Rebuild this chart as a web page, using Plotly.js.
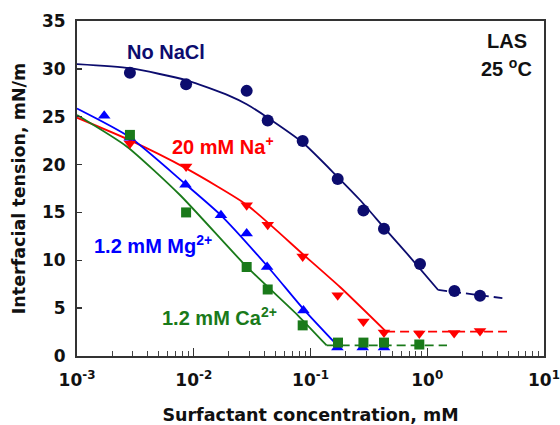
<!DOCTYPE html>
<html>
<head>
<meta charset="utf-8">
<script src="https://cdn.plot.ly/plotly-3.0.1.min.js"></script>
<style>html,body{margin:0;padding:0;background:#fff;}#chart{width:560px;height:425px;}</style>
</head>
<body>
<div id="chart"></div>
<script>
// ---- data ----
// No NaCl
const noNaClX = [0.00284, 0.0086, 0.0284, 0.043, 0.0857, 0.171, 0.284, 0.426, 0.867, 1.71, 2.83];
const noNaClY = [29.6, 28.4, 27.7, 24.6, 22.46, 18.5, 15.2, 13.3, 9.6, 6.8, 6.3];
const noNaClFitX = [0.001, 0.00284, 0.0087, 0.02, 0.0284, 0.043, 0.0857, 0.171, 0.2655, 0.426, 0.712, 1.24];
const noNaClFitY = [30.5, 30.07, 28.8, 27.2, 26.3, 24.9, 22.3, 18.7, 16.3, 13.42, 10.34, 6.9];
const noNaClDashX = [1.24, 4.4];
const noNaClDashY = [6.9, 6.05];

// 20 mM Na+
const naX = [0.00284, 0.0086, 0.0284, 0.043, 0.0857, 0.171, 0.284, 0.426, 0.855, 1.70, 2.83];
const naY = [22.2, 19.8, 15.75, 13.7, 10.4, 6.35, 3.6, 2.45, 2.35, 2.4, 2.6];
const naFitX = [0.001, 0.00277, 0.0086, 0.0284, 0.0857, 0.179, 0.444];
const naFitY = [24.9, 22.6, 19.6, 15.8, 10.66, 7.21, 2.55];
const naDashX = [0.444, 4.82];
const naDashY = [2.55, 2.55];

// 1.2 mM Mg2+
const mgX = [0.00171, 0.00283, 0.0085, 0.0171, 0.0284, 0.0425, 0.087, 0.17, 0.28, 0.426];
const mgY = [25.1, 22.8, 17.9, 14.7, 12.8, 9.3, 4.75, 0.9, 0.9, 0.9];
const mgFitX = [0.001, 0.0028, 0.0085, 0.0171, 0.0433, 0.087, 0.17];
const mgFitY = [25.86, 22.9, 17.95, 14.7, 9.3, 4.9, 1.1];

// 1.2 mM Ca2+
const caX = [0.00284, 0.0086, 0.0284, 0.043, 0.0857, 0.172, 0.284, 0.426, 0.855];
const caY = [23.1, 15.0, 9.3, 6.95, 3.2, 1.4, 1.4, 1.4, 1.2];
const caFitX = [0.001, 0.00268, 0.00762, 0.0284, 0.0786, 0.1375];
const caFitY = [25.18, 21.87, 16.82, 9.33, 4.2, 1.1];
const caDashX = [0.1375, 1.476];
const caDashY = [1.1, 1.1];

const xTickVals = [0.001, 0.01, 0.1, 1, 10];
const xTickText = ['10<sup>-3</sup>', '10<sup>-2</sup>', '10<sup>-1</sup>', '10<sup>0</sup>', '10<sup>1</sup>'];
const yTickVals = [0, 5, 10, 15, 20, 25, 30, 35];

// ---- styling ----
const NAVY = '#0c0c6e', RED = '#ff0000', BLUE = '#0000ff', GREEN = '#1a7a1a';
const FONT = 'DejaVu Sans, Arial, sans-serif';
const AFONT = 'Liberation Sans, Arial, sans-serif';

function line(x, y, color, dash) {
  return {x: x, y: y, mode: 'lines', type: 'scatter', hoverinfo: 'skip',
    line: {color: color, width: 1.8, dash: dash || 'solid', shape: dash ? 'linear' : 'spline', smoothing: 0.6}};
}
function pts(x, y, color, symbol, size) {
  return {x: x, y: y, mode: 'markers', type: 'scatter',
    marker: {color: color, symbol: symbol, size: size, line: {width: 0}}};
}

const traces = [
  line(noNaClFitX, noNaClFitY, NAVY),
  line(noNaClDashX, noNaClDashY, NAVY, '9px,5px'),
  line(naFitX, naFitY, RED),
  line(naDashX, naDashY, RED, '9px,5px'),
  line(mgFitX, mgFitY, BLUE),
  line(caFitX, caFitY, GREEN),
  line(caDashX, caDashY, GREEN, '9px,5px'),
  pts(noNaClX, noNaClY, NAVY, 'circle', 12),
  pts(naX, naY, RED, 'triangle-down', 11),
  pts(mgX, mgY, BLUE, 'triangle-up', 11),
  pts(caX, caY, GREEN, 'square', 10)
];

const minorVals = [];
for (let e = -3; e < 1; e++) for (let m = 2; m <= 9; m++) minorVals.push(m * Math.pow(10, e));

function ann(text, px, py, color, anchor) {
  return {text: '<b>' + text + '</b>', xref: 'paper', yref: 'paper',
    x: (px - 77) / 467, y: (356 - py) / 335, xanchor: anchor || 'left', yanchor: 'middle',
    showarrow: false, font: {family: AFONT, size: 20, color: color}};
}

const layout = {
  width: 560, height: 425,
  margin: {l: 77, r: 16, t: 21, b: 69},
  paper_bgcolor: '#fff', plot_bgcolor: '#fff',
  showlegend: false,
  font: {family: FONT, color: '#111'},
  xaxis: {
    type: 'log', range: [-3, 1],
    tickmode: 'array', tickvals: xTickVals, ticktext: xTickText,
    ticks: 'inside', ticklen: 8, tickwidth: 1.3, tickcolor: '#333',
    minor: {tickmode: 'array', tickvals: minorVals, ticks: 'inside', ticklen: 5, tickwidth: 1, tickcolor: '#444'},
    showline: true, linecolor: '#333', linewidth: 2, mirror: true,
    showgrid: false, zeroline: false,
    tickfont: {family: FONT, size: 17, weight: 'bold', color: '#111'},
    ticklabelstandoff: 8,
    title: {text: 'Surfactant concentration, mM', font: {family: FONT, size: 17.5, weight: 'bold', color: '#111'}, standoff: 20}
  },
  yaxis: {
    range: [0, 35], tickmode: 'array', tickvals: yTickVals,
    ticks: 'inside', ticklen: 5, tickwidth: 1.3, tickcolor: '#333',
    showline: true, linecolor: '#333', linewidth: 2, mirror: true,
    showgrid: false, zeroline: false,
    tickfont: {family: FONT, size: 17, weight: 'bold', color: '#111'},
    ticklabelstandoff: 6,
    title: {text: 'Interfacial tension, mN/m', font: {family: FONT, size: 17.5, weight: 'bold', color: '#111'}, standoff: 12}
  },
  annotations: [
    ann('No NaCl', 125, 52, NAVY),
    ann('20 mM Na<sup>+</sup>', 170, 145, RED),
    ann('1.2 mM Mg<sup>2+</sup>', 92, 244, BLUE),
    ann('1.2 mM Ca<sup>2+</sup>', 160, 316, GREEN),
    ann('LAS', 507, 41, '#111', 'center'),
    ann('25 <sup>o</sup>C', 506, 67, '#111', 'center')
  ]
};

Plotly.newPlot('chart', traces, layout, {displayModeBar: false, staticPlot: true});
</script>
</body>
</html>
